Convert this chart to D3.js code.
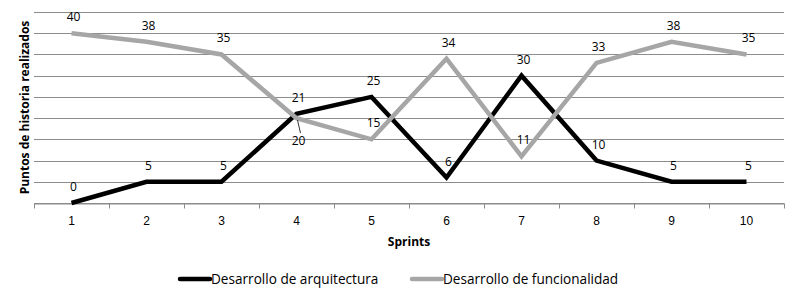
<!DOCTYPE html>
<html lang="es">
<head>
<meta charset="UTF-8">
<title>Sprints</title>
<script src="https://d3js.org/d3.v7.min.js"></script>
<style>
    body { margin: 0; background: #fff; }
    svg { display: block; font-family: "Open Sans", "Liberation Sans", sans-serif; }
</style>
</head>
<body>
<svg id="chart" width="797" height="289"></svg>
<script>
    const sprints = ["1", "2", "3", "4", "5", "6", "7", "8", "9", "10"];
    const arquitectura = [0, 5, 5, 21, 25, 6, 30, 10, 5, 5];
    const funcionalidad = [40, 38, 35, 20, 15, 34, 11, 33, 38, 35];
    const yTicks = [0, 5, 10, 15, 20, 25, 30, 35, 40, 45];

    const series = [
        { name: "Desarrollo de arquitectura", values: arquitectura, color: "#000000" },
        { name: "Desarrollo de funcionalidad", values: funcionalidad, color: "#a6a6a6" }
    ];

    const svg = d3.select("#chart");
    const plotLeft = 34, plotRight = 784, plotTop = 12, plotBottom = 203;

    let x = d3.scaleBand().domain(sprints).range([plotLeft, plotRight]);
    let y = d3.scaleLinear().domain([0, 45]).range([plotBottom, plotTop]);

    // gridlines
    svg.append("g")
        .selectAll("line")
        .data(yTicks)
        .join("line")
        .attr("x1", plotLeft).attr("x2", plotRight)
        .attr("y1", d => Math.round(y(d)) + 0.5)
        .attr("y2", d => Math.round(y(d)) + 0.5)
        .attr("stroke", "#8c8c8c")
        .attr("stroke-width", 1);

    // x axis
    let xAxis = svg.append("g")
        .attr("transform", `translate(0,${plotBottom + 0.5})`)
        .call(d3.axisBottom(x).tickSize(0).tickPadding(13));
    xAxis.select(".domain").attr("stroke", "#8c8c8c");
    xAxis.selectAll("text").attr("font-size", 12).attr("fill", "#000");
    let edges = sprints.map(s => x(s)).concat([plotRight]);
    xAxis.selectAll(".sep")
        .data(edges)
        .join("line")
        .attr("x1", d => Math.round(d) + 0.5).attr("x2", d => Math.round(d) + 0.5)
        .attr("y1", 0).attr("y2", 5)
        .attr("stroke", "#8c8c8c");

    svg.append("text")
        .attr("x", (plotLeft + plotRight) / 2)
        .attr("y", 246)
        .attr("text-anchor", "middle")
        .attr("font-size", 12)
        .attr("font-weight", "bold")
        .text("Sprints");

    svg.append("text")
        .attr("transform", `translate(29,${(plotTop + plotBottom) / 2}) rotate(-90)`)
        .attr("text-anchor", "middle")
        .attr("font-size", 12)
        .attr("font-weight", "bold")
        .text("Puntos de historia realizados");

    const line = d3.line()
        .x((d, i) => x(sprints[i]) + x.bandwidth() / 2)
        .y(d => y(d));

    series.forEach(s => {
        svg.append("path")
            .datum(s.values)
            .attr("d", line)
            .attr("fill", "none")
            .attr("stroke", s.color)
            .attr("stroke-width", 4.5);
    });

    // data labels
    series.forEach((s, si) => {
        s.values.forEach((v, i) => {
            let cx = x(sprints[i]) + x.bandwidth() / 2;
            let below = si === 1 && i === 3;
            let ly = below ? y(v) + 27 : y(v) - 12;
            svg.append("text")
                .attr("x", cx + 2)
                .attr("y", ly)
                .attr("text-anchor", "middle")
                .attr("font-size", 12)
                .text(v);
            if (below) {
                svg.append("line")
                    .attr("x1", cx + 1).attr("y1", y(v) + 2)
                    .attr("x2", cx + 4).attr("y2", y(v) + 15)
                    .attr("stroke", "#000").attr("stroke-width", 0.8);
            }
        });
    });

    // legend
    const legendPos = [180, 412];
    series.forEach((s, i) => {
        let g = svg.append("g").attr("transform", `translate(${legendPos[i]},279)`);
        g.append("line")
            .attr("x1", 0).attr("x2", 30).attr("y1", 0).attr("y2", 0)
            .attr("stroke", s.color).attr("stroke-width", 4.5)
            .attr("stroke-linecap", "round");
        g.append("text")
            .attr("x", 31).attr("y", 5)
            .attr("font-size", 13.6)
            .text(s.name);
    });
</script>
</body>
</html>
